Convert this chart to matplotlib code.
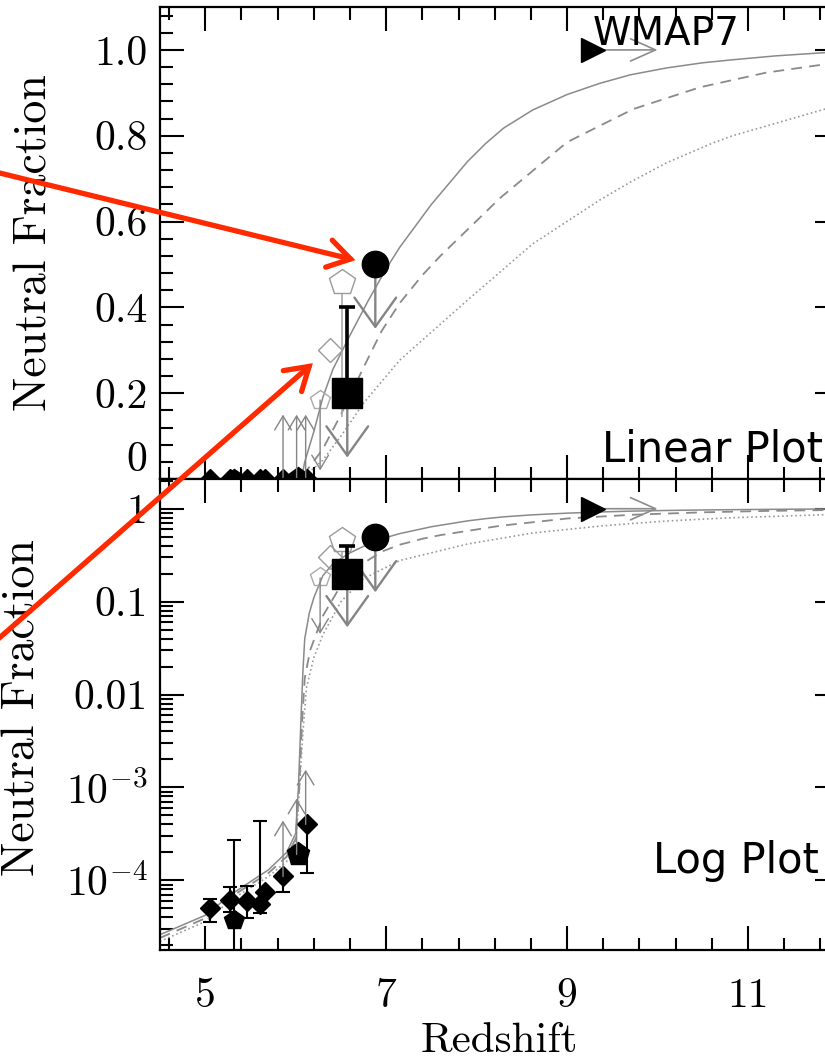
import numpy as np
import matplotlib
matplotlib.use('Agg')
import matplotlib.pyplot as plt
from matplotlib.ticker import FixedLocator, FixedFormatter, MultipleLocator, LogLocator, NullFormatter
from matplotlib.patches import FancyArrowPatch

plt.rcParams['font.family'] = 'cmr10'
plt.rcParams['mathtext.fontset'] = 'cm'
plt.rcParams['axes.unicode_minus'] = False

# model curves: redshift vs neutral fraction
z_solid = [4.5, 5.0, 5.3, 5.7, 5.9, 6.0, 6.03, 6.06, 6.08, 6.1, 6.15, 6.2, 6.3, 6.41, 6.6,
           6.8, 7.0, 7.15, 7.5, 7.9, 8.1, 8.3, 8.62, 9.0, 9.36, 9.7, 10.1, 10.5, 10.83, 11.3,
           11.8, 12.0]
x_solid = [2.6e-5, 4.2e-5, 7.2e-5, 1.3e-4, 2.0e-4, 3.2e-4, 1.0e-3, 6e-3, 0.018, 0.04, 0.075,
           0.11, 0.19, 0.255, 0.335, 0.415, 0.49, 0.54, 0.64, 0.74, 0.782, 0.818, 0.86, 0.896,
           0.922, 0.942, 0.958, 0.97, 0.977, 0.986, 0.993, 0.995]

z_dash = [4.5, 5.0, 5.3, 5.7, 5.9, 6.0, 6.04, 6.07, 6.1, 6.16, 6.3, 6.5, 6.75, 6.95, 7.15,
          7.4, 7.6, 8.26, 9.0, 9.73, 10.47, 11.2, 11.8, 12.0]
x_dash = [2.4e-5, 3.9e-5, 6.8e-5, 1.2e-4, 1.8e-4, 2.8e-4, 1.0e-3, 5e-3, 0.015, 0.03, 0.07,
          0.15, 0.26, 0.345, 0.41, 0.475, 0.52, 0.655, 0.785, 0.862, 0.913, 0.947, 0.965, 0.97]

z_dot = [4.5, 5.0, 5.3, 5.7, 5.9, 6.0, 6.04, 6.08, 6.12, 6.2, 6.3, 6.5, 6.75, 7.15, 7.9,
         8.62, 9.36, 9.7, 10.1, 10.61, 10.83, 11.85, 12.0]
x_dot = [2.2e-5, 3.6e-5, 6.3e-5, 1.1e-4, 1.6e-4, 2.5e-4, 9e-4, 4e-3, 0.012, 0.025, 0.044,
         0.1, 0.177, 0.277, 0.417, 0.548, 0.65, 0.692, 0.737, 0.783, 0.8, 0.862, 0.87]

# filled diamonds (Ly-alpha forest)
fan_z = [5.05, 5.27, 5.46, 5.61, 5.66, 5.86, 6.12]
fan_x = [5.0e-5, 6.2e-5, 6.0e-5, 5.6e-5, 7.4e-5, 1.1e-4, 4.0e-4]
fan_lo = [3.6e-5, 4.6e-5, 3.9e-5, 4.5e-5, 7.4e-5, 7.4e-5, 1.2e-4]
fan_hi = [6.3e-5, 8.4e-5, 8.6e-5, 4.3e-4, 7.4e-5, 1.1e-4, 4.0e-4]

# filled pentagons
pent_z = [5.32, 6.02]
pent_x = [3.7e-5, 1.9e-4]
pent_lo = [1.0e-5, 1.9e-4]
pent_hi = [2.7e-4, 1.9e-4]

# lower limits (gray up arrows)
up_z = [5.86, 6.01, 6.11]
up_start_log = [1.1e-4, 1.9e-4, 4.0e-4]
up_tip_log = [4.4e-4, 7.6e-4, 1.55e-3]
up_start_lin = [0.0, 0.0, 0.0]
up_tip_lin = [0.15, 0.15, 0.15]

# upper limits (gray down arrows): circle, square, small pentagon
dn_z = [6.88, 6.57, 6.27]
dn_start_lin = [0.5, 0.2, 0.184]
dn_tip_lin = [0.35, 0.05, 0.02]
dn_start_log = [0.5, 0.2, 0.18]
dn_tip_log = [0.126, 0.053, 0.045]
dn_big = [True, True, False]

# open gray markers
open_pent_z = [6.51, 6.27]
open_pent_x = [0.46, 0.185]
open_pent_lo = [0.145, 0.185]
open_diam_z = [6.38]
open_diam_x = [0.30]

# filled circle and square
circ_z = [6.88]
circ_x = [0.5]
sq_z = [6.57]
sq_x = [0.2]
sq_hi = [0.4]

# WMAP7 lower limit on redshift
wmap_z = [9.29]
wmap_x = [1.0]
wmap_tip = [10.0]

GRAY = '#858585'
RED = '#ff2a00'


def limit_arrow(ax, z, a, b, big, color=GRAY):
    if big:
        style = '->,head_length=1.05,head_width=0.75'
        lw = 1.7
    else:
        style = '->,head_length=0.5,head_width=0.3'
        lw = 1.0
    ax.annotate('', xy=(z, b), xytext=(z, a),
                arrowprops=dict(arrowstyle=style, color=color, lw=lw,
                                shrinkA=0, shrinkB=0, mutation_scale=20))


def draw_panel(ax, log):
    ax.plot(z_solid, x_solid, '-', color='#8a8a8a', lw=1.1)
    ax.plot(z_dash, x_dash, '--', color='#8a8a8a', lw=1.3, dashes=(6, 4))
    ax.plot(z_dot, x_dot, ':', color='#9a9a9a', lw=1.2)

    if log:
        up_a, up_b = up_start_log, up_tip_log
        dn_a, dn_b = dn_start_log, dn_tip_log
    else:
        up_a, up_b = up_start_lin, up_tip_lin
        dn_a, dn_b = dn_start_lin, dn_tip_lin

    for z, a, b in zip(up_z, up_a, up_b):
        limit_arrow(ax, z, a, b, False)
    for z, a, b, big in zip(dn_z, dn_a, dn_b, dn_big):
        limit_arrow(ax, z, a, b, big)

    # open gray points
    ax.vlines(open_pent_z[0], open_pent_lo[0], open_pent_x[0], color='#aaaaaa', lw=1.2)
    ax.plot(open_pent_z[0], open_pent_x[0], 'p', ms=19, mfc='white', mec='#9a9a9a', mew=1.0)
    ax.plot(open_pent_z[1], open_pent_x[1], 'p', ms=15, mfc='none', mec='#aaaaaa', mew=1.0)
    ax.plot(open_diam_z, open_diam_x, 'D', ms=12, mfc='none', mec='#9a9a9a', mew=1.0)

    # filled data
    fan_err = [np.array(fan_x) - np.array(fan_lo), np.array(fan_hi) - np.array(fan_x)]
    pent_err = [np.array(pent_x) - np.array(pent_lo), np.array(pent_hi) - np.array(pent_x)]
    if log:
        ax.errorbar(fan_z, fan_x, yerr=fan_err, fmt='none', ecolor='k', elinewidth=1.5,
                    capsize=5, capthick=1.5)
        ax.errorbar(pent_z, pent_x, yerr=pent_err, fmt='none', ecolor='k', elinewidth=1.5,
                    capsize=5, capthick=1.5)
    ax.plot(fan_z, fan_x, 'D', ms=10, color='k')
    ax.plot(pent_z[0], pent_x[0], 'p', ms=15, color='k')
    ax.plot(pent_z[1], pent_x[1], 'p', ms=17, color='k')

    sq_err = [[0], [sq_hi[0] - sq_x[0]]]
    ax.errorbar(sq_z, sq_x, yerr=sq_err, fmt='none', ecolor='k', elinewidth=2.6,
                capsize=6, capthick=2.6)
    ax.plot(sq_z, sq_x, 's', ms=21, color='k', zorder=5)
    ax.plot(circ_z, circ_x, 'o', ms=19, color='k', zorder=5)

    ax.annotate('', xy=(wmap_tip[0], wmap_x[0]), xytext=(wmap_z[0], wmap_x[0]),
                arrowprops=dict(arrowstyle='->,head_length=0.9,head_width=0.4', color='#8c8c8c',
                                lw=1.2, shrinkA=0, shrinkB=0, mutation_scale=20))
    ax.plot(wmap_z, wmap_x, '>', ms=17, color='k', zorder=5)


fig = plt.figure(figsize=(8.25, 10.58), dpi=100)
W = 825.0
H = 1058.0
left = 160 / W
width = 678.5 / W
ax1 = fig.add_axes([left, 1 - 479 / H, width, 472 / H])
ax2 = fig.add_axes([left, 1 - 950 / H, width, 471 / H], sharex=ax1)

draw_panel(ax1, False)
draw_panel(ax2, True)

ax1.set_xlim(4.5, 12.0)
ax1.set_ylim(0, 1.1)
ax2.set_yscale('log')
ax2.set_ylim(10 ** -4.75, 10 ** 0.32)

for ax in (ax1, ax2):
    ax.xaxis.set_major_locator(FixedLocator([5, 7, 9, 11]))
    ax.xaxis.set_minor_locator(MultipleLocator(0.4, offset=0.2))
    ax.tick_params(which='both', direction='in', top=True, right=True, width=1.5,
                   labelsize=30, pad=9)
    ax.tick_params(which='major', length=17)
    ax.tick_params(which='minor', length=9)
    for s in ax.spines.values():
        s.set_linewidth(1.6)

ax1.tick_params(labelbottom=False)
ax2.tick_params(axis='x', pad=20)
ax2.xaxis.set_major_formatter(FixedFormatter(['5', '7', '9', '11']))

ax1.yaxis.set_major_locator(FixedLocator([0, 0.2, 0.4, 0.6, 0.8, 1.0]))
ax1.yaxis.set_major_formatter(FixedFormatter(['0', '0.2', '0.4', '0.6', '0.8', '1.0']))
ax1.yaxis.set_minor_locator(MultipleLocator(0.04))

ax2.yaxis.set_major_locator(FixedLocator([1e-4, 1e-3, 1e-2, 1e-1, 1]))
ax2.yaxis.set_major_formatter(FixedFormatter([r'$10^{-4}$', r'$10^{-3}$', '0.01', '0.1', '1']))
ax2.yaxis.set_minor_locator(LogLocator(base=10, subs=np.arange(2, 10), numticks=30))
ax2.yaxis.set_minor_formatter(NullFormatter())

ax1.get_yticklabels()[0].set_va('bottom')

ax2.set_xlabel('Redshift', fontsize=31)
ax2.xaxis.set_label_coords(0.5, -0.153)
ax2.xaxis.label.set_va('top')

fig.text(35 / W, 1 - 243 / H, 'Neutral Fraction', rotation=90, fontsize=33,
         ha='center', va='center')
fig.text(23 / W, 1 - 708 / H, 'Neutral Fraction', rotation=90, fontsize=33,
         ha='center', va='center')

# red pointer arrows (overlay)
pointers = [((2.73, 0.713), (6.66, 0.51)), ((2.51, -0.41), (6.19, 0.27))]
for tail, tip in pointers:
    arr = FancyArrowPatch(tail, tip, transform=ax1.transData,
                          arrowstyle='->,head_length=0.8,head_width=0.5',
                          mutation_scale=20, lw=3.8, color=RED, zorder=10,
                          shrinkA=0, shrinkB=0, capstyle='round', joinstyle='miter')
    fig.add_artist(arr)

fig.text(593 / W, 1 - 45 / H, 'WMAP7', family='DejaVu Sans', fontsize=28, va='baseline')
fig.text(602 / W, 1 - 462 / H, 'Linear Plot', family='DejaVu Sans', fontsize=30, va='baseline')
fig.text(653 / W, 1 - 873 / H, 'Log Plot', family='DejaVu Sans', fontsize=30, va='baseline')

fig.savefig('out.png', dpi=100)
